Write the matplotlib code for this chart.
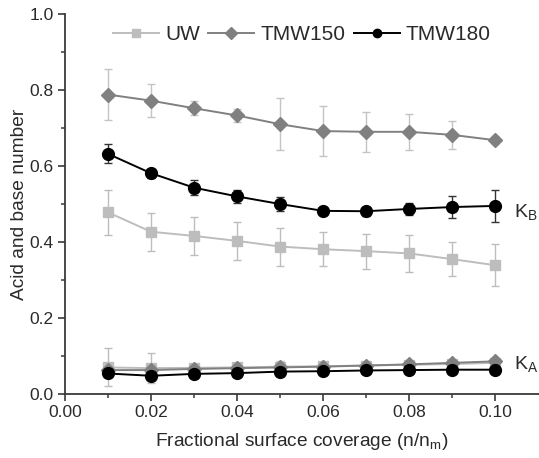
import matplotlib.pyplot as plt
from matplotlib.lines import Line2D
import numpy as np

plt.rcParams['font.family'] = ['Liberation Sans', 'DejaVu Sans']

coverage = [0.01, 0.02, 0.03, 0.04, 0.05, 0.06, 0.07, 0.08, 0.09, 0.10]

# K_B (base number)
uw_kb = [0.478, 0.427, 0.416, 0.403, 0.388, 0.381, 0.376, 0.370, 0.355, 0.339]
uw_kb_err = [0.060, 0.050, 0.050, 0.050, 0.050, 0.045, 0.046, 0.048, 0.045, 0.055]
tmw150_kb = [0.788, 0.772, 0.752, 0.733, 0.710, 0.692, 0.690, 0.690, 0.682, 0.668]
tmw150_kb_err = [0.067, 0.043, 0.018, 0.018, 0.068, 0.066, 0.052, 0.047, 0.036, 0.010]
tmw180_kb = [0.632, 0.581, 0.543, 0.520, 0.500, 0.482, 0.481, 0.487, 0.492, 0.495]
tmw180_kb_err = [0.025, 0.012, 0.020, 0.018, 0.018, 0.005, 0.012, 0.015, 0.028, 0.042]

# K_A (acid number)
uw_ka = [0.070, 0.068, 0.069, 0.070, 0.072, 0.073, 0.075, 0.077, 0.079, 0.082]
uw_ka_err = [0.050, 0.040, 0.010, 0.010, 0.012, 0.010, 0.010, 0.010, 0.010, 0.008]
tmw150_ka = [0.063, 0.063, 0.066, 0.068, 0.070, 0.072, 0.075, 0.078, 0.082, 0.086]
tmw150_ka_err = [0.012, 0.010, 0.008, 0.008, 0.018, 0.010, 0.010, 0.008, 0.008, 0.006]
tmw180_ka = [0.054, 0.048, 0.053, 0.055, 0.059, 0.060, 0.062, 0.063, 0.064, 0.064]
tmw180_ka_err = [0.004, 0.004, 0.004, 0.004, 0.004, 0.004, 0.004, 0.004, 0.004, 0.004]

c_uw = '#bdbdbd'
c_150 = '#808080'
c_180 = '#000000'
c_axis = '#3a3a3a'

fig = plt.figure(figsize=(5.39, 4.58), dpi=100)
ax = fig.add_axes([0.1206, 0.1397, 0.8794, 0.8297])

def series(y, err, color, ecolor, marker, ms):
    ax.errorbar(coverage, y, yerr=err, color=color, ecolor=ecolor, marker=marker,
                markersize=ms, lw=1.4, elinewidth=1.0, capsize=3, capthick=1.0)

series(uw_kb, uw_kb_err, c_uw, c_uw, 's', 7.5)
series(uw_ka, uw_ka_err, c_uw, c_uw, 's', 7.5)
series(tmw150_kb, tmw150_kb_err, c_150, '#c4c4c4', 'D', 7.5)
series(tmw150_ka, tmw150_ka_err, c_150, '#c4c4c4', 'D', 7.5)
series(tmw180_kb, tmw180_kb_err, c_180, '#333333', 'o', 8.5)
series(tmw180_ka, tmw180_ka_err, c_180, '#333333', 'o', 8.5)

ax.set_xlim(0, 0.1102)
ax.set_ylim(0, 1.0)
ax.set_xticks([0.00, 0.02, 0.04, 0.06, 0.08, 0.10])
ax.set_xticklabels(['0.00', '0.02', '0.04', '0.06', '0.08', '0.10'])
ax.set_xticks(np.arange(0.01, 0.11, 0.02), minor=True)
ax.set_yticks([0.0, 0.2, 0.4, 0.6, 0.8, 1.0])
ax.set_yticks([0.1, 0.3, 0.5, 0.7, 0.9], minor=True)
ax.spines['top'].set_visible(False)
ax.spines['right'].set_visible(False)
for s in ['left', 'bottom']:
    ax.spines[s].set_color(c_axis)
    ax.spines[s].set_linewidth(1.3)
ax.tick_params(axis='both', which='major', labelsize=12.5, length=5, width=1.2,
               color=c_axis, labelcolor='#2a2a2a', pad=3)
ax.tick_params(axis='both', which='minor', length=3, width=1.1, color=c_axis)

ax.set_xlabel('Fractional surface coverage (n/n$_\\mathregular{m}$)', fontsize=13.8,
              color='#2a2a2a', labelpad=8)
ax.set_ylabel('Acid and base number', fontsize=13.8, color='#2a2a2a', labelpad=1)

ax.text(0.1043, 0.478, 'K$_\\mathregular{B}$', fontsize=14, color='#2a2a2a',
        va='center', ha='left', clip_on=False)
ax.text(0.1043, 0.078, 'K$_\\mathregular{A}$', fontsize=14, color='#2a2a2a',
        va='center', ha='left', clip_on=False)

handles = [
    Line2D([], [], color=c_uw, marker='s', markersize=6, lw=1.4),
    Line2D([], [], color=c_150, marker='D', markersize=6, lw=1.4),
    Line2D([], [], color=c_180, marker='o', markersize=6, lw=1.4),
]
ax.legend(handles, ['UW', 'TMW150', 'TMW180'], loc='upper center',
          bbox_to_anchor=(0.5, 1.02), ncol=3, frameon=False, fontsize=15,
          handlelength=2.2, columnspacing=0.4, handletextpad=0.3,
          labelcolor='#2a2a2a')

fig.savefig('out.png', dpi=100, facecolor='white')
